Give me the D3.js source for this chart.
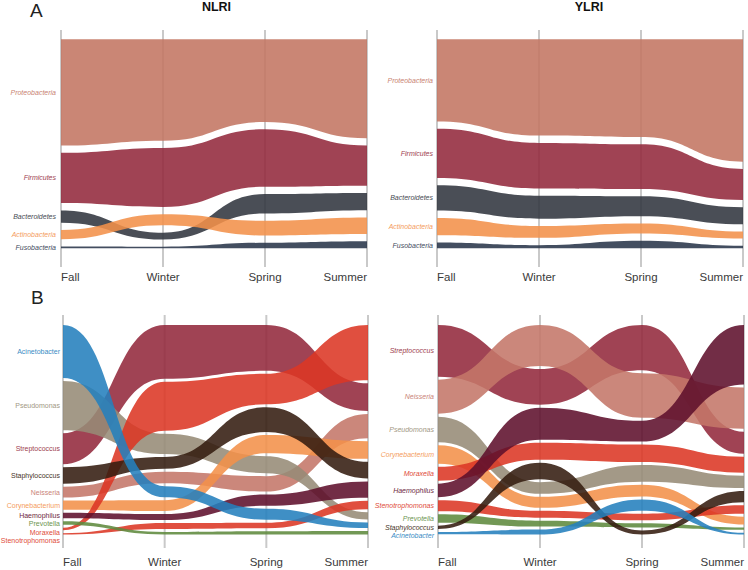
<!DOCTYPE html>
<html><head><meta charset="utf-8">
<script src="https://cdn.jsdelivr.net/npm/d3@7"></script>
<style>body{margin:0;background:#fff}</style>
</head><body><svg id="c" width="748" height="570"></svg>
<script>
// ---------- data ----------
const seasons = ["Fall", "Winter", "Spring", "Summer"];
const panelTitles = ["NLRI", "YLRI"];

const phyla = ["Proteobacteria", "Firmicutes", "Bacteroidetes", "Actinobacteria", "Fusobacteria"];
// relative abundance (%), columns = Fall, Winter, Spring, Summer
const nlriPhylaValues = [
  [59.1, 56.4, 46.0, 55.0],
  [28.0, 32.8, 32.0, 22.4],
  [6.8, 3.8, 10.8, 9.6],
  [5.2, 6.2, 8.2, 9.2],
  [0.9, 0.8, 3.0, 3.8]
];
const ylriPhylaValues = [
  [45.7, 53.6, 54.4, 68.1],
  [27.4, 25.3, 24.8, 17.2],
  [14.1, 12.8, 11.1, 9.5],
  [9.6, 6.6, 5.6, 3.9],
  [3.2, 1.7, 4.1, 1.3]
];

const genera = ["Acinetobacter", "Pseudomonas", "Streptococcus", "Staphylococcus", "Neisseria",
  "Corynebacterium", "Haemophilus", "Prevotella", "Moraxella", "Stenotrophomonas"];
const nlriGeneraValues = [
  [29.0, 6.1, 6.0, 3.0],
  [27.0, 11.1, 9.3, 4.0],
  [17.0, 29.5, 25.1, 15.2],
  [9.0, 6.4, 13.6, 9.1],
  [6.0, 6.3, 8.4, 13.2],
  [5.0, 5.9, 9.9, 9.7],
  [3.0, 3.3, 6.2, 8.9],
  [2.0, 1.4, 1.8, 1.9],
  [1.3, 26.8, 16.7, 30.3],
  [0.7, 3.2, 3.0, 4.7]
];
const ylriGeneraValues = [
  [1.3, 2.7, 6.2, 0.9],
  [13.9, 6.4, 9.1, 6.8],
  [28.3, 19.5, 24.8, 12.1],
  [1.8, 9.0, 2.2, 6.1],
  [18.7, 22.5, 24.4, 22.6],
  [10.2, 6.0, 6.4, 4.3],
  [7.4, 17.6, 11.4, 32.6],
  [4.6, 3.2, 2.3, 1.3],
  [7.6, 9.3, 9.6, 8.7],
  [6.1, 3.8, 3.6, 4.6]
];

// ---------- styles ----------
const fillColor = {
  Proteobacteria: "#c37562", Firmicutes: "#93293c", Bacteroidetes: "#31353f",
  Actinobacteria: "#f3914a", Fusobacteria: "#29364a",
  Acinetobacter: "#247fbd", Pseudomonas: "#968b76", Streptococcus: "#93293c",
  Staphylococcus: "#341d10", Neisseria: "#c47669", Corynebacterium: "#f3914a",
  Haemophilus: "#5e102c", Prevotella: "#5e8a3d", Moraxella: "#dc3724",
  Stenotrophomonas: "#dc3724"
};
const genusDrawOrder = ["Streptococcus", "Neisseria", "Pseudomonas", "Corynebacterium", "Moraxella",
  "Haemophilus", "Stenotrophomonas", "Prevotella", "Staphylococcus", "Acinetobacter"];

const svg = d3.select("#c");
const FONT = "'Liberation Sans', Arial, Helvetica, sans-serif";

function drawPanel(cfg) {
  const g = svg.append("g");
  const x = d3.scalePoint().domain(seasons).range([cfg.x0, cfg.x1]);
  const n = cfg.names.length;
  const y = d3.scaleLinear().domain([0, 100]).range([0, cfg.valueHeight]);

  // grid / axis lines
  g.selectAll("line.ax").data(seasons).join("line")
    .attr("x1", d => x(d)).attr("x2", d => x(d))
    .attr("y1", cfg.axisTop).attr("y2", cfg.axisBottom)
    .attr("stroke", "#c9c9c9").attr("stroke-width", 2);

  // stacked bands per season (sorted by value)
  const bands = cfg.names.map(() => []);
  seasons.forEach((s, j) => {
    const idx = d3.range(n).sort((a, b) => cfg.values[b][j] - cfg.values[a][j]);
    let cur = cfg.top;
    idx.forEach(i => {
      const h = y(cfg.values[i][j]);
      bands[i][j] = { x: x(s), y0: cur, y1: cur + h };
      cur += h + cfg.gap;
    });
  });

  const area = d3.area().x(d => d.x).y0(d => d.y0).y1(d => d.y1).curve(d3.curveBumpX);
  const order = cfg.drawOrder ? cfg.drawOrder.map(nm => cfg.names.indexOf(nm)) : d3.range(n);
  g.selectAll("path.stream").data(order).join("path")
    .attr("d", i => area(bands[i]))
    .attr("fill", i => fillColor[cfg.names[i]])
    .attr("fill-opacity", 0.88);

  // labels at Fall, right aligned, with minimal spacing
  const labIdx = d3.range(n).sort((a, b) => bands[a][0].y0 - bands[b][0].y0);
  let prev = -1e9;
  labIdx.forEach(i => {
    let ly = (bands[i][0].y0 + bands[i][0].y1) / 2;
    ly = Math.max(ly, prev + cfg.minSpacing);
    prev = ly;
    g.append("text")
      .attr("x", cfg.x0 - cfg.labelOffset).attr("y", ly)
      .attr("dy", "0.35em")
      .attr("text-anchor", "end")
      .attr("font-family", FONT).attr("font-size", 7)
      .attr("font-style", cfg.italic ? "italic" : "normal")
      .attr("fill", d3.interpolateRgb("#ffffff", fillColor[cfg.names[i]])(0.9))
      .text(cfg.names[i]);
  });

  // season labels
  g.selectAll("text.season").data(seasons).join("text")
    .attr("x", d => x(d)).attr("y", cfg.labelY)
    .attr("text-anchor", (d, k) => k === 0 ? "start" : (k === seasons.length - 1 ? "end" : "middle"))
    .attr("font-family", FONT).attr("font-size", 11.5).attr("fill", "#3a3a3a")
    .text(d => d);
}

const A = { top: 39.3, gap: 7.3, valueHeight: 179.7, axisTop: 30, axisBottom: 267, labelY: 281, minSpacing: 8.3 };
const B = { top: 325, gap: 3, valueHeight: 182.5, axisTop: 315, axisBottom: 548, labelY: 566, minSpacing: 8.3 };

drawPanel(Object.assign({}, A, { names: phyla, values: nlriPhylaValues, x0: 61, x1: 367, italic: true, labelOffset: 5 }));
drawPanel(Object.assign({}, A, { names: phyla, values: ylriPhylaValues, x0: 437, x1: 743, italic: true, labelOffset: 4 }));
drawPanel(Object.assign({}, B, { names: genera, values: nlriGeneraValues, x0: 63, x1: 368, italic: false, labelOffset: 3, drawOrder: genusDrawOrder }));
drawPanel(Object.assign({}, B, { names: genera, values: ylriGeneraValues, x0: 438, x1: 744, italic: true, labelOffset: 4, drawOrder: genusDrawOrder }));

// titles
svg.selectAll("text.title").data(panelTitles).join("text")
  .attr("x", (d, i) => [216.5, 589][i]).attr("y", 11)
  .attr("text-anchor", "middle")
  .attr("font-family", FONT).attr("font-weight", "bold").attr("font-size", 12.5).attr("fill", "#111")
  .text(d => d);

svg.append("text").attr("x", 30).attr("y", 17).attr("font-family", FONT)
  .attr("font-size", 19).attr("fill", "#222").text("A");
svg.append("text").attr("x", 31).attr("y", 304).attr("font-family", FONT)
  .attr("font-size", 19).attr("fill", "#222").text("B");
</script></body></html>
